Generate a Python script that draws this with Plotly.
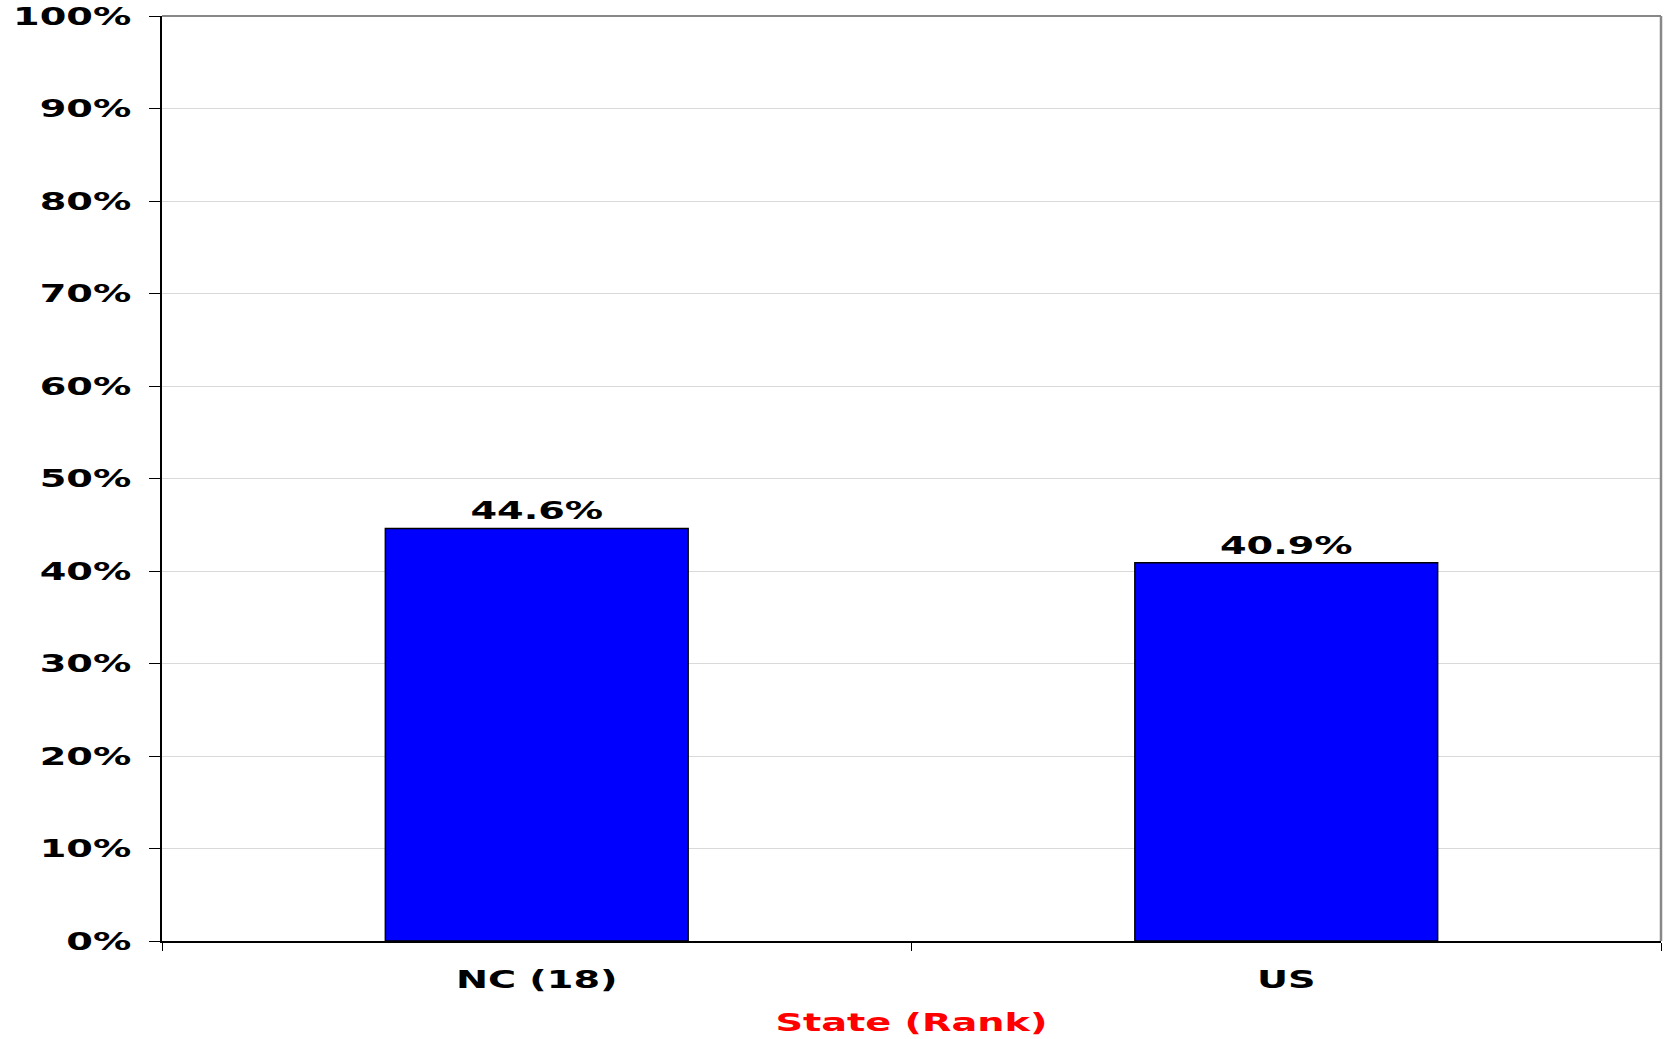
import plotly.graph_objects as go

categories = ["NC (18)", "US"]
values = [44.6, 40.9]
y_ticks = list(range(0, 101, 10))
y_tick_labels = [f"{v}%" for v in y_ticks]

FONT = "Verdana, DejaVu Sans, sans-serif"
FS = 25

fig = go.Figure()
fig.add_trace(go.Bar(
    x=categories, y=values,
    marker=dict(color="#0000FF", line=dict(color="#000000", width=1.5)),
    text=[f"{v:.1f}%" for v in values],
    texttemplate="<b>%{text}</b>",
    textposition="outside",
    cliponaxis=False,
    textfont=dict(family=FONT, size=FS, color="#000000"),
))

fig.update_layout(
    width=1664, height=1039,
    margin=dict(l=162, r=3, t=16, b=98),
    paper_bgcolor="white", plot_bgcolor="white",
    bargap=0.596,
    showlegend=False,
    font=dict(family=FONT, size=FS, color="#000000"),
)
fig.update_xaxes(
    automargin=False,
    showline=True, linecolor="#000000", linewidth=1.5,
    ticks="outside", tickson="boundaries", ticklen=8, tickcolor="#000000", tickwidth=1,
    tickfont=dict(family=FONT, size=FS, color="#000000"),
    ticktext=[f"<b>{c}</b>" for c in categories], tickvals=categories,
    ticklabelstandoff=15,
    title=dict(text="<b>State (Rank)</b>", font=dict(family=FONT, size=FS, color="#FF0000"), standoff=21),
    showgrid=False,
)
fig.update_yaxes(
    automargin=False,
    range=[0, 100], tickvals=y_ticks, ticktext=[f"<b>{t}</b>" for t in y_tick_labels],
    showline=True, linecolor="#000000", linewidth=1.5,
    ticks="outside", ticklen=11, tickcolor="#000000", tickwidth=1,
    tickfont=dict(family=FONT, size=FS, color="#000000"),
    showgrid=True, gridcolor="#d9d9d9", gridwidth=1,
    zeroline=False, ticklabelstandoff=13,
)
# gray frame on top and right of plot area
fig.add_shape(type="line", xref="paper", yref="paper", x0=0, x1=1, y0=1, y1=1,
              line=dict(color="#888888", width=2))
fig.add_shape(type="line", xref="paper", yref="paper", x0=1, x1=1, y0=0, y1=1,
              line=dict(color="#888888", width=2.5))

# page margin off; the reference uses a horizontally wide face, so widen the rendered glyphs
post = """
(function(){
  document.body.style.margin = '0';
  var gd = document.getElementById('{plot_id}');
  function stretch(){
    gd.querySelectorAll('.main-svg text').forEach(function(t){
      if(!t.textContent.trim() || t.getAttribute('data-stretched')) return;
      var w = t.getComputedTextLength();
      t.setAttribute('textLength', (w*1.53).toFixed(1));
      t.setAttribute('lengthAdjust', 'spacingAndGlyphs');
      t.setAttribute('data-stretched', '1');
    });
  }
  stretch();
})();
"""

fig.write_html("out.html", post_script=post, config={"displayModeBar": False})
